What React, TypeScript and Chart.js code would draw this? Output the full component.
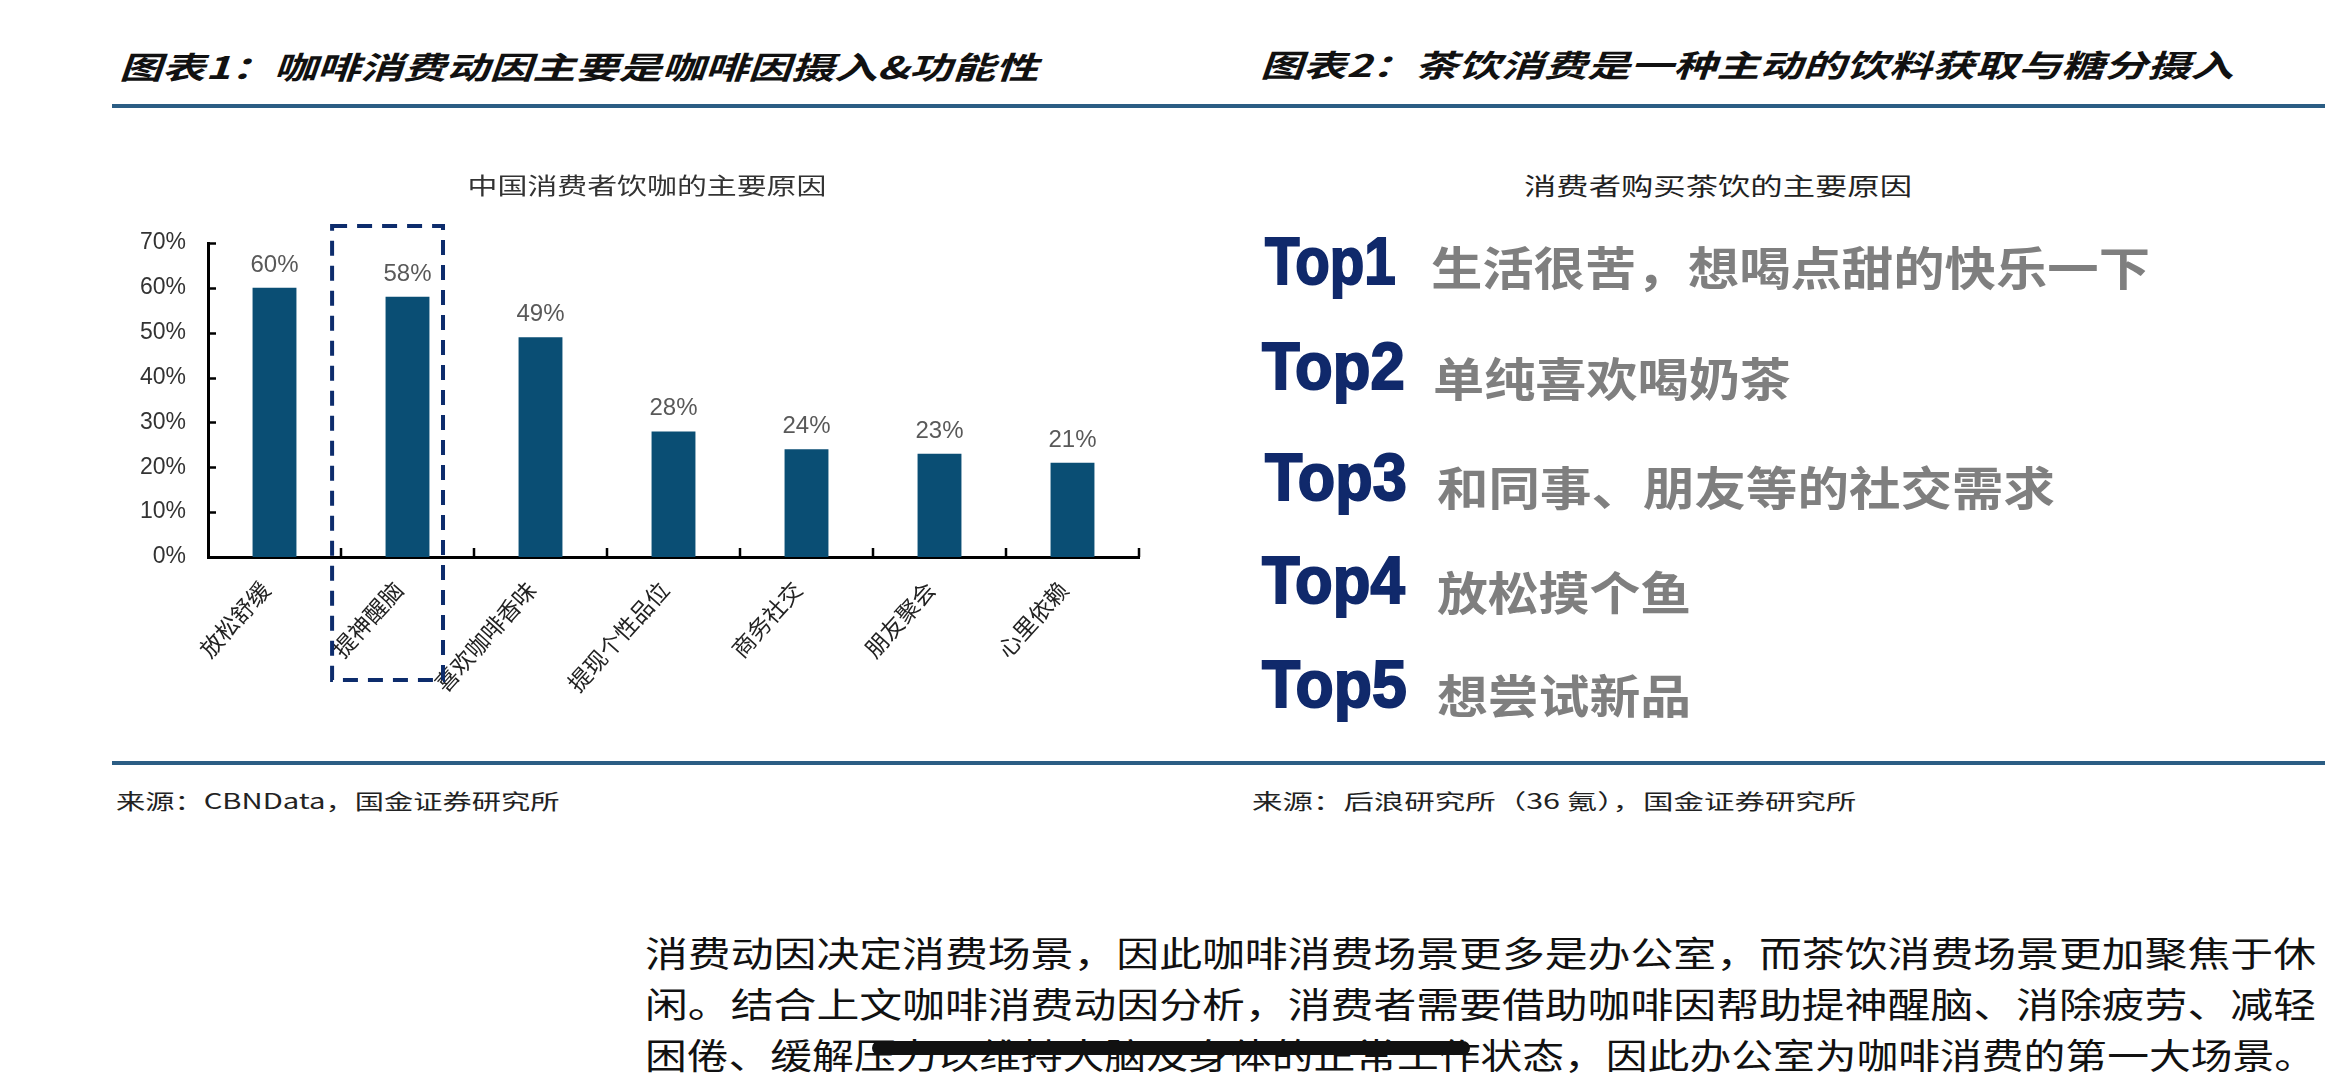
import React, { useEffect, useLayoutEffect, useRef, useState } from 'react';
import { Chart, registerables } from 'chart.js';

Chart.register(...registerables);

// ---------- data ----------
const categories = ['放松舒缓', '提神醒脑', '喜欢咖啡香味', '提现个性品位', '商务社交', '朋友聚会', '心里依赖'];
const shares = [60, 58, 49, 28, 24, 23, 21];
const yMax = 70;
const yStep = 10;
const chartTitle = '中国消费者饮咖的主要原因';
const highlightIndex = 1;

const heading1 = '图表1：咖啡消费动因主要是咖啡因摄入&功能性';
const heading2 = '图表2：茶饮消费是一种主动的饮料获取与糖分摄入';
const source1 = '来源：CBNData，国金证券研究所';
const source2 = '来源：后浪研究所（36 氪），国金证券研究所';

const teaTitle = '消费者购买茶饮的主要原因';
const teaRanks = ['Top1', 'Top2', 'Top3', 'Top4', 'Top5'];
const teaReasons = ['生活很苦，想喝点甜的快乐一下', '单纯喜欢喝奶茶', '和同事、朋友等的社交需求', '放松摸个鱼', '想尝试新品'];

const paragraphLines = [
  '消费动因决定消费场景，因此咖啡消费场景更多是办公室，而茶饮消费场景更加聚焦于休',
  '闲。结合上文咖啡消费动因分析，消费者需要借助咖啡因帮助提神醒脑、消除疲劳、减轻',
  '困倦、缓解压力以维持大脑及身体的正常工作状态，因此办公室为咖啡消费的第一大场景。',
];

// ---------- layout (positions only) ----------
const rankLeft = [1265, 1262, 1265, 1262, 1262];
const rankWidth = [131, 143, 142, 143, 145];
const rankCapTop = [237, 342, 453, 556, 660];
const reasonLeft = [1431, 1433, 1437, 1437, 1437];
const reasonWidth = [719, 358, 618, 254, 254];
const reasonCenter = [268, 379, 488, 593, 696];
const paraCenter = [953, 1004, 1055];

const CJK = '"Noto Sans CJK SC", "Noto Sans", sans-serif';
const LAT = '"Liberation Sans", Arial, sans-serif';

type FitProps = {
  text: string;
  left: number;
  top: number;
  width: number;
  size: number;
  family?: string;
  weight?: number;
  italic?: boolean;
  color?: string;
  stroke?: string;
};

function FitText({ text, left, top, width, size, family = CJK, weight = 400, italic = false, color = '#111', stroke }: FitProps) {
  const ref = useRef<HTMLSpanElement>(null);
  const [sx, setSx] = useState(1);
  useLayoutEffect(() => {
    const measure = () => {
      const el = ref.current;
      if (!el) return;
      const w = el.offsetWidth;
      if (w > 0) setSx(width / w);
    };
    measure();
    const f = (document as any).fonts;
    if (f && f.ready) f.ready.then(measure);
  }, [text, width, size]);
  return (
    <span
      ref={ref}
      style={{
        position: 'absolute',
        left,
        top,
        fontSize: size,
        lineHeight: `${size}px`,
        height: size,
        fontFamily: family,
        fontWeight: weight,
        fontStyle: italic ? 'italic' : 'normal',
        color,
        whiteSpace: 'nowrap',
        transform: `scaleX(${sx})`,
        transformOrigin: 'left center',
        WebkitTextStroke: stroke,
      } as any}
    >
      {text}
    </span>
  );
}

// CJK ink centre sits ~0.556em below the top of a line box with line-height = size
const cjkTop = (center: number, size: number) => center - 0.556 * size;

function CoffeeChart() {
  const ref = useRef<HTMLCanvasElement>(null);
  useEffect(() => {
    const canvas = ref.current;
    if (!canvas) return;

    const titlePlugin = {
      id: 'scaledTitle',
      afterDraw(chart: any) {
        const ctx = chart.ctx;
        ctx.save();
        ctx.font = `400 23px ${CJK}`;
        ctx.fillStyle = '#333';
        ctx.textAlign = 'center';
        ctx.textBaseline = 'middle';
        ctx.translate(530, 35);
        ctx.scale(1.3, 1);
        ctx.fillText(chartTitle, 0, 0);
        ctx.restore();
      },
    };

    const valueLabels = {
      id: 'valueLabels',
      afterDatasetsDraw(chart: any) {
        const ctx = chart.ctx;
        const meta = chart.getDatasetMeta(0);
        ctx.save();
        ctx.font = `24px ${LAT}`;
        ctx.fillStyle = '#595959';
        ctx.textAlign = 'center';
        ctx.textBaseline = 'alphabetic';
        meta.data.forEach((bar: any, i: number) => {
          ctx.fillText(`${shares[i]}%`, bar.x, bar.y - 16);
        });
        ctx.restore();
      },
    };

    const insideTicks = {
      id: 'insideTicks',
      afterDraw(chart: any) {
        const ctx = chart.ctx;
        const { left, bottom } = chart.chartArea;
        const xs = chart.scales.x;
        const ys = chart.scales.y;
        ctx.save();
        ctx.strokeStyle = '#000';
        ctx.lineWidth = 2.5;
        ctx.beginPath();
        ys.ticks.forEach((t: any) => {
          if (t.value === 0) return;
          const py = Math.round(ys.getPixelForValue(t.value)) + 0.5;
          ctx.moveTo(left, py);
          ctx.lineTo(left + 8, py);
        });
        for (let i = 1; i <= categories.length; i++) {
          const px = Math.round(xs.getPixelForValue(i - 0.5));
          ctx.moveTo(px, bottom);
          ctx.lineTo(px, bottom - 9);
        }
        ctx.stroke();
        ctx.restore();
      },
    };

    const highlightBox = {
      id: 'highlightBox',
      afterDraw(chart: any) {
        const ctx = chart.ctx;
        const xs = chart.scales.x;
        const ys = chart.scales.y;
        const c = xs.getPixelForValue(highlightIndex);
        const cw = xs.getPixelForValue(1) - xs.getPixelForValue(0);
        const l = c - 0.567 * cw;
        const r = c + 0.267 * cw;
        const t = ys.getPixelForValue(yMax) - 17;
        const b = ys.getPixelForValue(0) + 123;
        ctx.save();
        ctx.setLineDash([15, 10]);
        ctx.lineWidth = 4;
        ctx.strokeStyle = '#0d2c6c';
        ctx.strokeRect(l, t, r - l, b - t);
        ctx.restore();
      },
    };

    const chart = new Chart(canvas, {
      type: 'bar',
      data: {
        labels: categories,
        datasets: [
          {
            data: shares,
            backgroundColor: '#0a4e74',
            borderWidth: 0,
            barPercentage: 0.33,
            categoryPercentage: 1,
          },
        ],
      },
      options: {
        animation: false,
        responsive: false,
        layout: { padding: { top: 93, right: 38, left: 0, bottom: 0 } },
        plugins: {
          legend: { display: false },
          title: { display: false },
          tooltip: { enabled: false },
        },
        scales: {
          x: {
            grid: { display: false, drawTicks: false },
            border: { display: true, color: '#000', width: 3 },
            ticks: {
              autoSkip: false,
              minRotation: 48,
              maxRotation: 48,
              padding: 19,
              labelOffset: -9,
              color: '#222',
              font: { family: CJK, size: 23 },
            },
            afterFit: (s: any) => {
              s.height = 163;
            },
          },
          y: {
            min: 0,
            max: yMax,
            grid: { display: false, drawTicks: false },
            border: { display: true, color: '#000', width: 3 },
            ticks: {
              stepSize: yStep,
              padding: 22,
              color: '#333',
              font: { family: LAT, size: 23 },
              callback: (v: any) => `${v}%`,
            },
            afterFit: (s: any) => {
              s.width = 91;
            },
          },
        },
      } as any,
      plugins: [titlePlugin, valueLabels, insideTicks, highlightBox],
    });
    return () => chart.destroy();
  }, []);
  return (
    <div style={{ position: 'absolute', left: 117, top: 150, width: 1060, height: 570 }}>
      <canvas ref={ref} width={1060} height={570} style={{ width: 1060, height: 570, display: 'block' }} />
    </div>
  );
}

export default function App() {
  return (
    <div
      style={{
        position: 'absolute',
        left: 0,
        top: 0,
        width: 2341,
        height: 1080,
        background: '#fff',
        overflow: 'hidden',
      }}
    >
      <FitText text={heading1} left={119} top={cjkTop(67, 31)} width={919} size={31} weight={700} italic />
      <FitText text={heading2} left={1260} top={cjkTop(65, 31)} width={973} size={31} weight={700} italic />

      <div style={{ position: 'absolute', left: 112, top: 104, width: 2213, height: 4, background: '#2b5d84' }} />
      <div style={{ position: 'absolute', left: 112, top: 761, width: 2213, height: 4, background: '#2b5d84' }} />

      <CoffeeChart />

      <FitText text={teaTitle} left={1524} top={cjkTop(186, 24)} width={388} size={24} color="#222" />
      {teaRanks.map((r, i) => (
        <FitText
          key={r}
          text={r}
          left={rankLeft[i]}
          top={rankCapTop[i] - 0.13 * 66}
          width={rankWidth[i]}
          size={66}
          family={'"Liberation Sans Narrow", "Liberation Sans", Arial, sans-serif'}
          weight={700}
          color="#10296b"
          stroke="2px #10296b"
        />
      ))}
      {teaReasons.map((t, i) => (
        <FitText
          key={t}
          text={t}
          left={reasonLeft[i]}
          top={cjkTop(reasonCenter[i], 46)}
          width={reasonWidth[i]}
          size={46}
          weight={700}
          color="#7f7f7f"
        />
      ))}

      <FitText text={source1} left={116} top={cjkTop(802, 21)} width={444} size={21} color="#222" />
      <FitText text={source2} left={1252} top={cjkTop(802, 21)} width={605} size={21} color="#222" />

      {paragraphLines.map((line, i) => (
        <FitText key={i} text={line} left={645} top={cjkTop(paraCenter[i], 35)} width={1671} size={35} color="#111" />
      ))}
      <div
        style={{
          position: 'absolute',
          left: 872,
          top: 1041,
          width: 598,
          height: 14,
          borderRadius: 7,
          background: '#111',
        }}
      />
    </div>
  );
}
